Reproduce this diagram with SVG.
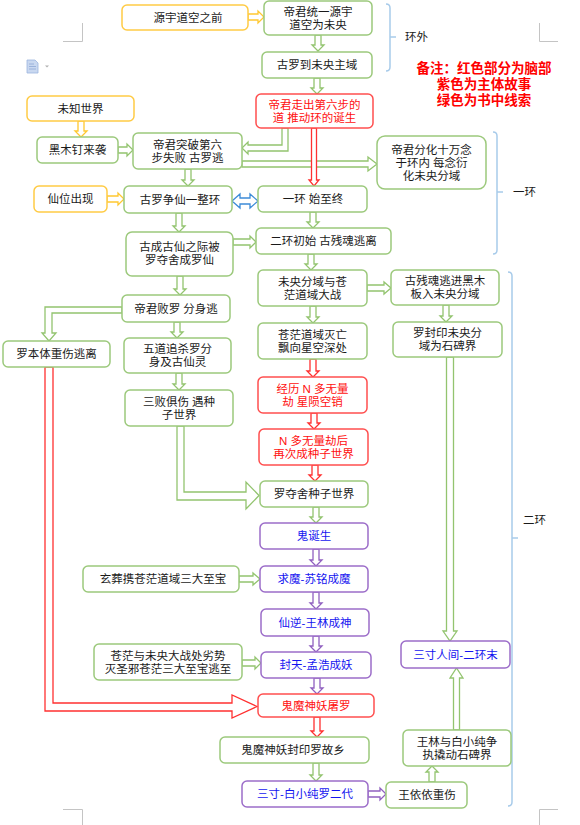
<svg xmlns="http://www.w3.org/2000/svg" width="580" height="825" viewBox="0 0 580 825">
<style>
.n{fill:#fff;stroke-width:1.5}
.g{stroke:#9CC97C}
.y{stroke:#FFCB45}
.r{stroke:#FF4F4F}
.p{stroke:#9C6DC9}
.t{font-family:"Liberation Sans","Noto Sans CJK SC",sans-serif;font-size:11.5px;fill:#1a1a1a;text-anchor:middle;dominant-baseline:central}
.tr{fill:#FF1010}
.tb{fill:#1515F0}
.a{fill:#fff;stroke-width:1.3;stroke-linejoin:miter}
.ag{stroke:#93C46F}
.ay{stroke:#FFC830}
.ar{stroke:#FF3030}
.ap{stroke:#9060C0}
.ab{stroke:#3C8BD8}
.br{fill:none;stroke:#A8CBEA;stroke-width:1.5}
.lb{font-family:"Liberation Sans","Noto Sans CJK SC",sans-serif;font-size:11.5px;fill:#1a1a1a;dominant-baseline:central}
.note{font-family:"Liberation Sans","Noto Sans CJK SC",sans-serif;font-size:13.5px;font-weight:bold;fill:#FF0000;text-anchor:middle}
.cm{fill:none;stroke:#C4C4C4;stroke-width:1}
</style>

<g id="page-marks">
<path class="cm" d="M63 41.5 H82.5 V23 M539.5 23 V41.5 H558 M63 809.5 H82.5 V825 M539.5 825 V809.5 H558"/>
<path d="M27 60 H35 L38 63 V73 H27 Z" fill="#C9D8F0" stroke="#9DB5DE" stroke-width="0.8"/>
<path d="M29 64 H34 M29 66.5 H36 M29 69 H36" stroke="#8FA8D6" stroke-width="0.8"/>
<path d="M45 65.5 H49 L47 67.5 Z" fill="#B0B0B0"/>
</g>

<g id="connectors">
<path class="a ay" d="M248 14 H258 V11 L264 17 L258 23 V20 H248 Z"/>
<path class="a ag" d="M315 35 V45 H312 L318 51 L324 45 H321 V35 Z"/>
<path class="a ag" d="M314 78 V88 H311 L317 94 L323 88 H320 V78 Z"/>
<path class="a ay" d="M78 121 V131 H75 L81 137 L87 131 H84 V121 Z"/>
<path class="a ag" d="M118 147 H127 V144 L133 150 L127 156 V153 H118 Z"/>
<path class="a ag" d="M282 128 V145 H248 V142 L242 148 L248 154 V151 H288 V128 Z"/>
<path class="a ag" d="M242 161 H368 V157 L377 164 L368 171 V167 H242 Z"/>
<path class="a ar" d="M311.5 128 V180 H309 L314 186 L319 180 H316.5 V128 Z"/>
<path class="a ag" d="M185 169 V180 H182 L188 186 L194 180 H191 V169 Z"/>
<path class="a ay" d="M107 196 H118 V193 L124 199 L118 205 V202 H107 Z"/>
<path class="a ab" d="M232 201 L240 194 V198 H250 V194 L258 201 L250 208 V204 H240 V208 Z"/>
<path class="a ag" d="M176 213 V226 H173 L179 232 L185 226 H182 V213 Z"/>
<path class="a ag" d="M233 239 H250 V236 L256 242 L250 248 V245 H233 Z"/>
<path class="a ag" d="M310 212 V222 H307 L313 228 L319 222 H316 V212 Z"/>
<path class="a ag" d="M308 254 V264 H305 L311 270 L317 264 H314 V254 Z"/>
<path class="a ag" d="M177 276 V289 H174 L180 295 L186 289 H183 V276 Z"/>
<path class="a ag" d="M367 285 H384 V282 L391 288 L384 294 V291 H367 Z"/>
<path class="a ag" d="M122 307 H45 V333 H42 L49 341 L56 333 H52 V313 H122 Z"/>
<path class="a ag" d="M174 322 V332 H171 L177 338 L183 332 H180 V322 Z"/>
<path class="a ag" d="M176 373 V384 H173 L179 390 L185 384 H182 V373 Z"/>
<path class="a ag" d="M310 306 V317 H307 L313 323 L319 317 H316 V306 Z"/>
<path class="a ag" d="M443 305 V316 H440 L446 322 L452 316 H449 V305 Z"/>
<path class="a ar" d="M310 359 V371 H307 L313 377 L319 371 H316 V359 Z"/>
<path class="a ar" d="M311 413 V423 H308 L314 429 L320 423 H317 V413 Z"/>
<path class="a ar" d="M312 465 V475 H309 L315 481 L321 475 H318 V465 Z"/>
<path class="a ag" d="M177 426 V500 H246 V509 L259 495.5 L246 482 V492 H184 V426 Z"/>
<path class="a ar" d="M45 367 V711 H232 V718 L257 706.5 L232 695 V703 H53 V367 Z"/>
<path class="a ag" d="M313 507 V517 H310 L316 523 L322 517 H319 V507 Z"/>
<path class="a ap" d="M313 549 V560 H310 L316 566 L322 560 H319 V549 Z"/>
<path class="a ag" d="M239 576 H253 V573 L260 579 L253 585 V582 H239 Z"/>
<path class="a ap" d="M313 592 V603 H310 L316 609 L322 603 H319 V592 Z"/>
<path class="a ap" d="M313 636 V646 H310 L316 652 L322 646 H319 V636 Z"/>
<path class="a ag" d="M242 660 H255 V657 L261 663 L255 669 V666 H242 Z"/>
<path class="a ap" d="M314 678 V688 H311 L317 694 L323 688 H320 V678 Z"/>
<path class="a ar" d="M314 717 V731 H311 L317 737 L323 731 H320 V717 Z"/>
<path class="a ag" d="M313 763 V775 H310 L316 781 L322 775 H319 V763 Z"/>
<path class="a ap" d="M368 791 H380 V788 L386 794 L380 800 V797 H368 Z"/>
<path class="a ag" d="M429 782 V772 H426 L432 766 L438 772 H435 V782 Z"/>
<path class="a ag" d="M453.5 730 V678 H450 L456.5 668 L463 678 H459.5 V730 Z"/>
<path class="a ag" d="M446.5 357 V631 H443 L450 641 L457 631 H453.5 V357 Z"/>
</g>

<g id="brackets">
<path class="br" d="M386 4 Q390 4 390 8 V67 Q390 71 386 71 M390 37 H396"/>
<text class="lb" x="405" y="37">环外</text>
<path class="br" d="M493 132 Q497 132 497 136 V250 Q497 254 493 254 M497 192 H503"/>
<text class="lb" x="513" y="192">一环</text>
<path class="br" d="M508 272 Q512 272 512 276 V802 Q512 806 508 806 M512 538 H518"/>
<text class="lb" x="523" y="520">二环</text>
</g>

<g id="note">
<text class="note" x="484" y="73">备注：红色部分为脑部</text>
<text class="note" x="484" y="89">紫色为主体故事</text>
<text class="note" x="484" y="105">绿色为书中线索</text>
</g>

<g id="n1"><rect class="n y" x="122" y="5" width="126" height="25" rx="5"/><text class="t" x="188" y="17.5">源宇道空之前</text></g>
<g id="n2"><rect class="n g" x="264" y="1" width="108" height="34" rx="5"/><text class="t" x="318" y="11.5">帝君统一源宇</text><text class="t" x="318" y="24.5">道空为未央</text></g>
<g id="n3"><rect class="n g" x="262" y="52" width="110" height="26" rx="5"/><text class="t" x="317" y="65">古罗到未央主域</text></g>
<g id="n4"><rect class="n r" x="256" y="94" width="117" height="34" rx="5"/><text class="t tr" x="314.5" y="104.5">帝君走出第六步的</text><text class="t tr" x="314.5" y="117.5">道 推动环的诞生</text></g>
<g id="n5"><rect class="n y" x="27" y="96" width="107" height="25" rx="5"/><text class="t" x="80.5" y="108.5">未知世界</text></g>
<g id="n6"><rect class="n g" x="37" y="137" width="81" height="26" rx="5"/><text class="t" x="77.5" y="150">黑木钉来袭</text></g>
<g id="n7"><rect class="n g" x="133" y="133" width="109" height="36" rx="5"/><text class="t" x="187.5" y="144.5">帝君突破第六</text><text class="t" x="187.5" y="157.5">步失败 古罗逃</text></g>
<g id="n8"><rect class="n y" x="34" y="186" width="73" height="26" rx="5"/><text class="t" x="70.5" y="199">仙位出现</text></g>
<g id="n9"><rect class="n g" x="124" y="186" width="108" height="27" rx="5"/><text class="t" x="180" y="199.5">古罗争仙一整环</text></g>
<g id="n10"><rect class="n g" x="258" y="186" width="109" height="26" rx="5"/><text class="t" x="313" y="199">一环 始至终</text></g>
<g id="n11"><rect class="n g" x="377" y="136" width="109" height="53" rx="8"/><text class="t" x="431.5" y="149.5">帝君分化十万念</text><text class="t" x="431.5" y="162.5">于环内 每念衍</text><text class="t" x="431.5" y="175.5">化未央分域</text></g>
<g id="n12"><rect class="n g" x="126" y="232" width="107" height="44" rx="6"/><text class="t" x="179.5" y="246.5">古成古仙之际被</text><text class="t" x="179.5" y="259.5">罗夺舍成罗仙</text></g>
<g id="n13"><rect class="n g" x="256" y="228" width="135" height="26" rx="5"/><text class="t" x="323.5" y="241">二环初始 古残魂逃离</text></g>
<g id="n14"><rect class="n g" x="258" y="270" width="109" height="36" rx="5"/><text class="t" x="312.5" y="281.5">未央分域与苍</text><text class="t" x="312.5" y="294.5">茫道域大战</text></g>
<g id="n15"><rect class="n g" x="391" y="270" width="108" height="35" rx="5"/><text class="t" x="445" y="281">古残魂逃进黑木</text><text class="t" x="445" y="294">板入未央分域</text></g>
<g id="n16"><rect class="n g" x="122" y="295" width="108" height="27" rx="5"/><text class="t" x="176" y="308.5">帝君败罗 分身逃</text></g>
<g id="n17"><rect class="n g" x="3" y="341" width="107" height="26" rx="5"/><text class="t" x="56.5" y="354">罗本体重伤逃离</text></g>
<g id="n18"><rect class="n g" x="124" y="338" width="107" height="35" rx="5"/><text class="t" x="177.5" y="349">五道追杀罗分</text><text class="t" x="177.5" y="362">身及古仙灵</text></g>
<g id="n19"><rect class="n g" x="125" y="390" width="108" height="36" rx="5"/><text class="t" x="179" y="401.5">三败俱伤 遇种</text><text class="t" x="179" y="414.5">子世界</text></g>
<g id="n20"><rect class="n g" x="258" y="323" width="109" height="36" rx="5"/><text class="t" x="312.5" y="334.5">苍茫道域灭亡</text><text class="t" x="312.5" y="347.5">飘向星空深处</text></g>
<g id="n21"><rect class="n g" x="393" y="322" width="109" height="35" rx="5"/><text class="t" x="447.5" y="333">罗封印未央分</text><text class="t" x="447.5" y="346">域为石碑界</text></g>
<g id="n22"><rect class="n r" x="258" y="377" width="109" height="36" rx="5"/><text class="t tr" x="312.5" y="388.5">经历 N 多无量</text><text class="t tr" x="312.5" y="401.5">劫 星陨空销</text></g>
<g id="n23"><rect class="n r" x="259" y="429" width="109" height="36" rx="5"/><text class="t tr" x="313.5" y="440.5">N 多无量劫后</text><text class="t tr" x="313.5" y="453.5">再次成种子世界</text></g>
<g id="n24"><rect class="n g" x="260" y="481" width="108" height="26" rx="5"/><text class="t" x="314" y="494">罗夺舍种子世界</text></g>
<g id="n25"><rect class="n p" x="260" y="523" width="108" height="26" rx="5"/><text class="t tb" x="314" y="536">鬼诞生</text></g>
<g id="n26"><rect class="n g" x="83" y="566" width="156" height="26" rx="5"/><text class="t" x="163" y="579">玄葬携苍茫道域三大至宝</text></g>
<g id="n27"><rect class="n p" x="260" y="566" width="108" height="26" rx="5"/><text class="t tb" x="314" y="579">求魔-苏铭成魔</text></g>
<g id="n28"><rect class="n p" x="261" y="609" width="108" height="27" rx="5"/><text class="t tb" x="315" y="622.5">仙逆-王林成神</text></g>
<g id="n29"><rect class="n g" x="94" y="644" width="148" height="36" rx="5"/><text class="t" x="168" y="655.5">苍茫与未央大战处劣势</text><text class="t" x="168" y="668.5">灭圣邪苍茫三大至宝逃至</text></g>
<g id="n30"><rect class="n p" x="261" y="652" width="110" height="26" rx="5"/><text class="t tb" x="316" y="665">封天-孟浩成妖</text></g>
<g id="n31"><rect class="n p" x="401" y="641" width="109" height="27" rx="5"/><text class="t tb" x="455.5" y="654.5">三寸人间-二环末</text></g>
<g id="n32"><rect class="n r" x="258" y="694" width="116" height="23" rx="5"/><text class="t tr" x="316" y="705.5">鬼魔神妖屠罗</text></g>
<g id="n33"><rect class="n g" x="220" y="737" width="149" height="26" rx="5"/><text class="t" x="293" y="750">鬼魔神妖封印罗故乡</text></g>
<g id="n34"><rect class="n g" x="403" y="730" width="108" height="36" rx="5"/><text class="t" x="457" y="741.5">王林与白小纯争</text><text class="t" x="457" y="754.5">执撬动石碑界</text></g>
<g id="n35"><rect class="n p" x="242" y="781" width="126" height="26" rx="5"/><text class="t tb" x="305" y="794">三寸-白小纯罗二代</text></g>
<g id="n36"><rect class="n g" x="386" y="782" width="81" height="26" rx="5"/><text class="t" x="427" y="795">王依依重伤</text></g>
</svg>
